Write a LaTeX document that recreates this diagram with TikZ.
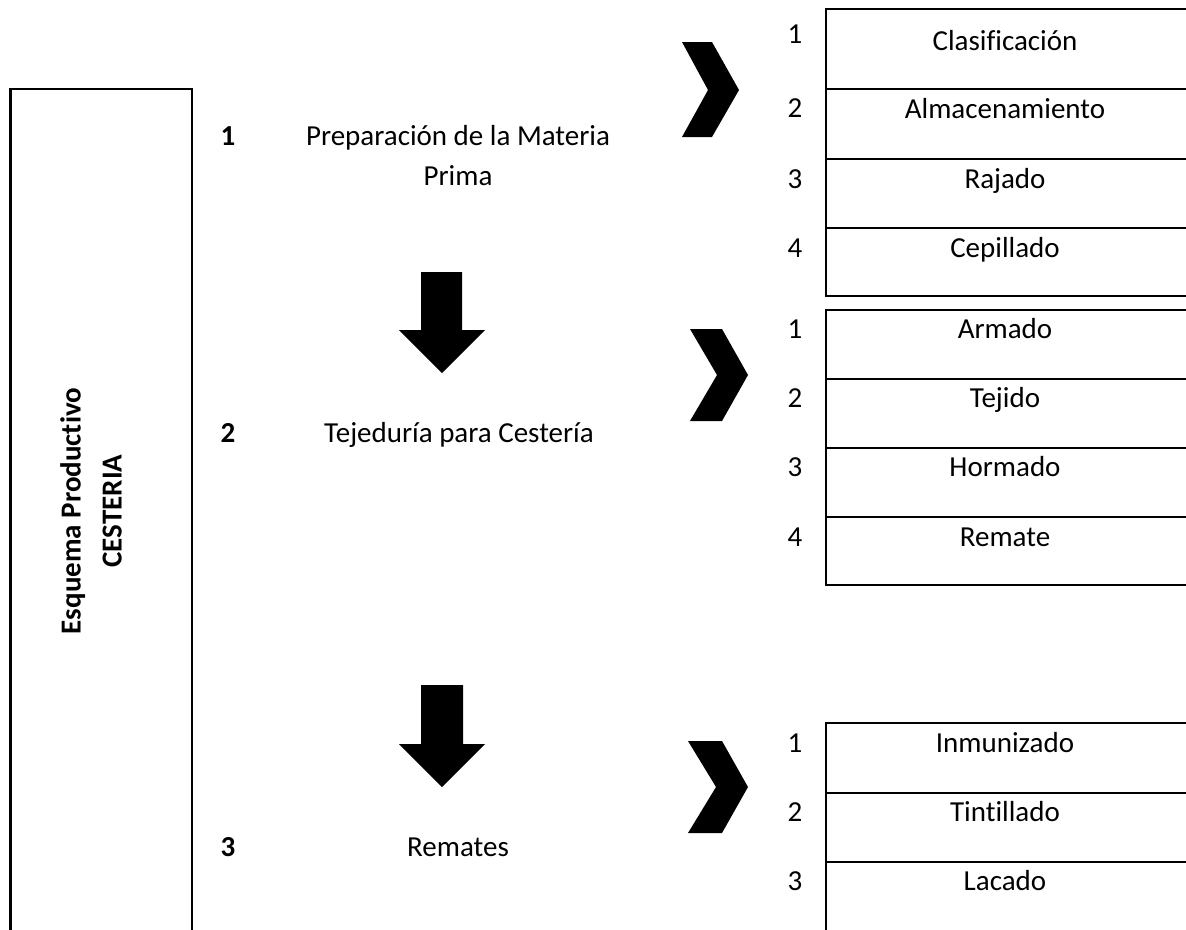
\documentclass[tikz,border=0pt]{standalone}
\usepackage{fontspec}
\setmainfont{Carlito}[Ligatures=NoCommon]
\begin{document}
\begin{tikzpicture}[x=1pt,y=-1pt,
  font=\fontsize{29}{35.4}\selectfont,
  txt/.style={anchor=base,inner sep=0pt},
  num/.style={anchor=base,inner sep=0pt,font=\fontsize{29}{35.4}\selectfont\bfseries},
  frame/.style={draw=black,line width=2.7pt},
  cell/.style={draw=black,line width=2pt},
  blk/.style={fill=black}]
\useasboundingbox (0,0) rectangle (1186,929);
\begin{scope}
\clip (0,0) rectangle (1186,929);
% left frame
\draw[frame] (10.5,89) rectangle (192,945);
\node[rotate=90,align=center,inner sep=0pt,font=\fontsize{29}{41}\selectfont\bfseries] (title) at (91,511) {Esquema Productivo\\CESTERIA};
% stage labels
\node[num] (n1) at (228,145) {1};
\node[txt] (s1a) at (458,145) {Preparación de la Materia};
\node[txt] (s1b) at (458,185) {Prima};
\node[num] (n2) at (228,442) {2};
\node[txt] (s2) at (459,442) {Tejeduría para Cestería};
\node[num] (n3) at (228,856) {3};
\node[txt] (s3) at (458,856) {Remates};
% down arrows
\fill[blk] (421,272) -- (462,272) -- (462,330) -- (485,330) -- (442,373) -- (399,330) -- (421,330) -- cycle;
\fill[blk] (421,685) -- (463,685) -- (463,744) -- (485,744) -- (442,787) -- (399,744) -- (421,744) -- cycle;
% chevrons
\fill[blk] (682,42) -- (712,42) -- (739,90) -- (712,137) -- (682,137) -- (708,90) -- cycle;
\fill[blk] (690,329) -- (722,329) -- (748,375) -- (722,421) -- (690,421) -- (717,375) -- cycle;
\fill[blk] (688,741) -- (722,741) -- (748,787) -- (722,833) -- (688,833) -- (716,787) -- cycle;
% box A
\draw[cell] (826,9) rectangle (1200,296);
\draw[cell] (826,89) -- (1200,89);
\draw[cell] (826,159) -- (1200,159);
\draw[cell] (826,228) -- (1200,228);
% box B
\draw[cell] (826,310) rectangle (1200,585);
\draw[cell] (826,379) -- (1200,379);
\draw[cell] (826,448) -- (1200,448);
\draw[cell] (826,517) -- (1200,517);
% box C
\draw[cell] (826,723) rectangle (1200,945);
\draw[cell] (826,793) -- (1200,793);
\draw[cell] (826,862) -- (1200,862);
\end{scope}
% box A texts
\node[txt] (a1n) at (795,43) {1};
\node[txt] (a1) at (1005,50) {Clasificación};
\node[txt] (a2n) at (795,117) {2};
\node[txt] (a2) at (1005,118) {Almacenamiento};
\node[txt] (a3n) at (795,188) {3};
\node[txt] (a3) at (1005,188) {Rajado};
\node[txt] (a4n) at (795,257) {4};
\node[txt] (a4) at (1005,257) {Cepillado};
% box B texts
\node[txt] (b1n) at (795,338) {1};
\node[txt] (b1) at (1005,338) {Armado};
\node[txt] (b2n) at (795,407) {2};
\node[txt] (b2) at (1005,407) {Tejido};
\node[txt] (b3n) at (795,476) {3};
\node[txt] (b3) at (1005,476) {Hormado};
\node[txt] (b4n) at (795,546) {4};
\node[txt] (b4) at (1005,546) {Remate};
% box C texts
\node[txt] (c1n) at (795,752) {1};
\node[txt] (c1) at (1005,752) {Inmunizado};
\node[txt] (c2n) at (795,821) {2};
\node[txt] (c2) at (1005,821) {Tintillado};
\node[txt] (c3n) at (795,890) {3};
\node[txt] (c3) at (1005,890) {Lacado};
\end{tikzpicture}
\end{document}
